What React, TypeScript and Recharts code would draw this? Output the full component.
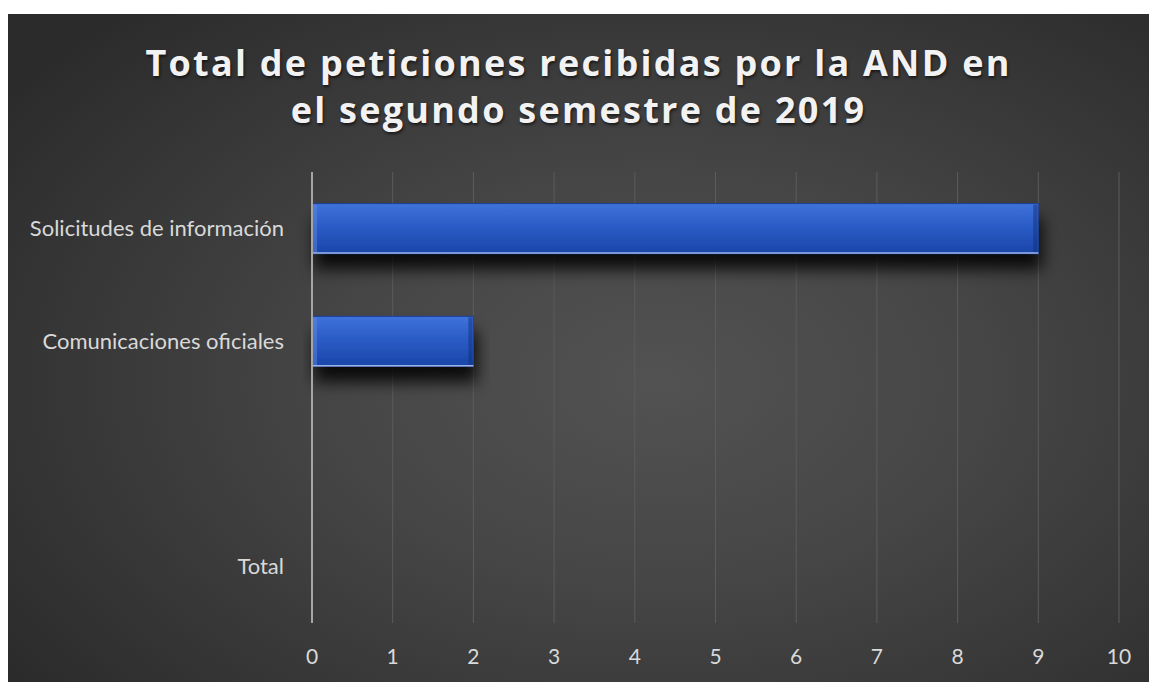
import { BarChart, Bar, XAxis, YAxis, CartesianGrid } from 'recharts'

const categories = ['Solicitudes de información', 'Comunicaciones oficiales', ' ', 'Total']
const peticiones = [9, 2, null, null]
const xTicks = [0, 1, 2, 3, 4, 5, 6, 7, 8, 9, 10]

const data = categories.map((name, i) => ({ name, value: peticiones[i] }))

const BevelBar = (props: any) => {
  const { x, y, width, height } = props
  if (!width || width <= 0) return null
  return (
    <g filter="url(#barShadow)">
      <rect x={x} y={y} width={width} height={height} fill="url(#barFill)" stroke="#1b3f96" strokeWidth={1} />
      <rect x={x + 1} y={y + 1} width={4} height={height - 2} fill="#5b87e6" opacity={0.5} />
      <rect x={x + width - 5} y={y + 1} width={4} height={height - 2} fill="#0f2f7a" opacity={0.5} />
      <line x1={x} x2={x + width} y1={y + height - 0.5} y2={y + height - 0.5} stroke="#9db4e8" strokeWidth={1.5} />
    </g>
  )
}

export default function App() {
  return (
    <>
      <style>{'body{margin:0;overflow:hidden}'}</style>
      <div
        style={{
          position: 'absolute',
          left: 8,
          top: 14,
          width: 1141,
          height: 668,
          background: 'radial-gradient(ellipse 70% 75% at 57% 55%, #525252 0%, #464646 40%, #2b2b2b 100%)',
          fontFamily: 'Lato, "Open Sans", sans-serif',
        }}
      >
        <div
          style={{
            position: 'absolute',
            left: 0,
            top: 25,
            width: 1141,
            textAlign: 'center',
            color: '#f2f2f2',
            fontFamily: '"Open Sans", sans-serif',
            fontWeight: 700,
            fontSize: 36,
            letterSpacing: 2.25,
            lineHeight: '47px',
            textShadow: '1px 2px 3px rgba(0,0,0,0.6)',
          }}
        >
          Total de peticiones recibidas por la AND en
          <br />
          el segundo semestre de 2019
        </div>
        <BarChart
          width={1141}
          height={668}
          data={data}
          layout="vertical"
          margin={{ top: 158, right: 30, left: 0, bottom: 0 }}
          barCategoryGap="28%"
        >
          <defs>
            <linearGradient id="barFill" x1="0" y1="0" x2="0" y2="1">
              <stop offset="0%" stopColor="#3f72da" />
              <stop offset="45%" stopColor="#2b5cc6" />
              <stop offset="100%" stopColor="#1a45a8" />
            </linearGradient>
            <filter id="barShadow" x="-5%" y="-20%" width="115%" height="200%">
              <feDropShadow dx={3} dy={15} stdDeviation={8} floodColor="#000" floodOpacity={0.85} />
            </filter>
          </defs>
          <CartesianGrid horizontal={false} stroke="#5c5c5c" strokeWidth={1} />
          <XAxis
            type="number"
            domain={[0, 10]}
            ticks={xTicks}
            interval={0}
            axisLine={false}
            tickLine={false}
            height={59}
            tick={{ fill: '#d9d9d9', fontSize: 21, fontFamily: 'Lato, sans-serif' }}
            tickMargin={20}
          />
          <YAxis
            type="category"
            dataKey="name"
            width={304}
            axisLine={{ stroke: '#a6a6a6', strokeWidth: 2 }}
            tickLine={false}
            tick={{ fill: '#d9d9d9', fontSize: 22, fontFamily: 'Lato, sans-serif' }}
            tickMargin={22}
          />
          <Bar dataKey="value" shape={<BevelBar />} isAnimationActive={false} />
        </BarChart>
      </div>
    </>
  )
}
